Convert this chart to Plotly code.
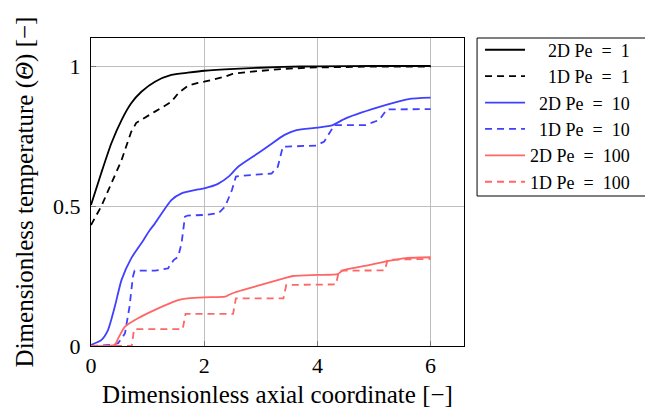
import plotly.graph_objects as go

# Centreline temperature profiles: 2D model vs. 1D model at three Peclet numbers
x_2d_pe1 = [0, 0.18, 0.36, 0.54, 0.71, 0.89, 1.13, 1.42, 1.71, 2.0, 2.54, 3.4, 4.0, 5.0, 6.0]
y_2d_pe1 = [0.504, 0.617, 0.724, 0.807, 0.867, 0.908, 0.944, 0.968, 0.976, 0.983, 0.99, 0.997, 0.999, 1.0, 1.0]

x_1d_pe1 = [0, 0.18, 0.36, 0.54, 0.71, 0.8, 1.13, 1.42, 1.55, 1.71, 1.89, 2.0, 2.37, 2.5, 2.84, 3.42, 4.0, 5.0, 6.0]
y_1d_pe1 = [0.432, 0.498, 0.581, 0.664, 0.765, 0.797, 0.837, 0.872, 0.905, 0.929, 0.94, 0.944, 0.962, 0.972, 0.98, 0.99, 0.995, 0.998, 0.998]

x_2d_pe10 = [0, 0.18, 0.3, 0.42, 0.54, 0.71, 0.89, 1.04, 1.13, 1.42, 1.6, 1.89, 2.0, 2.25, 2.43, 2.6,
             2.95, 3.16, 3.42, 3.63, 4.0, 4.27, 4.5, 5.2, 5.61, 6.0]
y_2d_pe10 = [0.004, 0.021, 0.057, 0.14, 0.236, 0.313, 0.367, 0.414, 0.438, 0.521, 0.545, 0.559, 0.563, 0.58,
             0.605, 0.64, 0.688, 0.718, 0.754, 0.771, 0.78, 0.789, 0.813, 0.86, 0.882, 0.887]

x_1d_pe10 = [0, 0.36, 0.48, 0.6, 0.68, 0.74, 0.77, 1.13, 1.36, 1.46, 1.54, 1.6, 1.66, 1.71, 2.0, 2.25, 2.37,
             2.49, 2.56, 2.66, 3.19, 3.3, 3.39, 3.45, 3.98, 4.12, 4.3, 4.85, 5.09, 5.23, 6.0]
y_1d_pe10 = [0, 0.004, 0.01, 0.045, 0.14, 0.247, 0.269, 0.269, 0.277, 0.307, 0.319, 0.367, 0.462, 0.466,
             0.468, 0.474, 0.498, 0.557, 0.605, 0.608, 0.616, 0.64, 0.712, 0.712, 0.716, 0.73, 0.789, 0.789,
             0.807, 0.845, 0.846]

x_2d_pe100 = [0, 0.42, 0.48, 0.6, 0.83, 1.13, 1.54, 1.71, 2.0, 2.37, 2.45, 2.55, 3.0, 3.42, 3.57, 4.0,
              4.36, 4.45, 4.91, 5.26, 5.56, 6.0]
y_2d_pe100 = [0, 0.004, 0.027, 0.069, 0.099, 0.129, 0.164, 0.17, 0.174, 0.176, 0.184, 0.192, 0.218, 0.242,
              0.25, 0.254, 0.257, 0.27, 0.289, 0.304, 0.314, 0.317]

x_1d_pe100 = [0, 0.72, 0.76, 1.62, 1.67, 2.51, 2.56, 3.40, 3.45, 4.33, 4.38, 5.19, 5.24, 6.0]
y_1d_pe100 = [0, 0, 0.06, 0.06, 0.115, 0.115, 0.17, 0.17, 0.218, 0.22, 0.269, 0.27, 0.308, 0.311]

x_ticks = [0, 2, 4, 6]
y_ticks = [0, 0.5, 1]
y_tick_text = ["0", "0.5", "1"]

BLACK = "rgb(0,0,0)"
BLUE = "rgb(64,64,255)"
RED = "rgb(255,102,102)"
NB = "\u00a0"
EQ = NB * 2 + "=" + NB * 2


def label(model, pe, pad):
    return NB * pad + f"{model} Pe{EQ}{pe}"


series = [
    (x_2d_pe1, y_2d_pe1, BLACK, "solid", label("2D", 1, 4)),
    (x_1d_pe1, y_1d_pe1, BLACK, "7px,5px", label("1D", 1, 4)),
    (x_2d_pe10, y_2d_pe10, BLUE, "solid", label("2D", 10, 2)),
    (x_1d_pe10, y_1d_pe10, BLUE, "7px,5px", label("1D", 10, 2)),
    (x_2d_pe100, y_2d_pe100, RED, "solid", label("2D", 100, 0)),
    (x_1d_pe100, y_1d_pe100, RED, "7px,5px", label("1D", 100, 0)),
]

fig = go.Figure()
for xs, ys, col, dash, name in series:
    fig.add_trace(go.Scatter(
        x=xs, y=ys, mode="lines", name=name,
        line=dict(color=col, width=1.8, dash=dash,
                  shape="spline" if dash == "solid" else "linear", smoothing=0.6),
    ))

FONT = "Liberation Serif"
GRID = "rgb(190,190,190)"

# legend frame, drawn separately so it can carry extra padding
fig.add_shape(type="rect", xref="paper", yref="paper",
              x0=1.035, x1=1.5, y0=0.487, y1=1.0,
              line=dict(color="black", width=1), fillcolor="white", layer="below")

fig.update_layout(
    width=645, height=408,
    margin=dict(l=91, r=181, t=38, b=62, autoexpand=False),
    paper_bgcolor="white", plot_bgcolor="white",
    font=dict(family=FONT, size=22, color="black"),
    xaxis=dict(
        range=[0, 6.59], tickvals=x_ticks, ticktext=[str(v) for v in x_ticks],
        showgrid=True, gridcolor=GRID, gridwidth=1, zeroline=False,
        showline=True, linecolor="black", linewidth=1, mirror=True,
        ticks="inside", ticklen=5, tickcolor="rgb(120,120,120)",
        tickfont=dict(size=22), ticklabelstandoff=0,
        title=dict(text="Dimensionless axial coordinate [\u2212]", font=dict(size=25), standoff=8),
    ),
    yaxis=dict(
        range=[0, 1.1], tickvals=y_ticks, ticktext=y_tick_text,
        showgrid=True, gridcolor=GRID, gridwidth=1, zeroline=False,
        showline=True, linecolor="black", linewidth=1, mirror=True,
        ticks="inside", ticklen=5, tickcolor="rgb(120,120,120)",
        tickfont=dict(size=22), ticklabelstandoff=5,
        title=dict(text="Dimensionless temperature (<i>\u0398</i>) [\u2212]", font=dict(size=25), standoff=12),
    ),
    legend=dict(
        x=1.043, xanchor="left", y=1.021, yanchor="top",
        bgcolor="rgba(0,0,0,0)", borderwidth=0,
        font=dict(family=FONT, size=18), itemwidth=40,
        tracegroupgap=0,
    ),
    showlegend=True,
)

fig.write_html("out.html")
